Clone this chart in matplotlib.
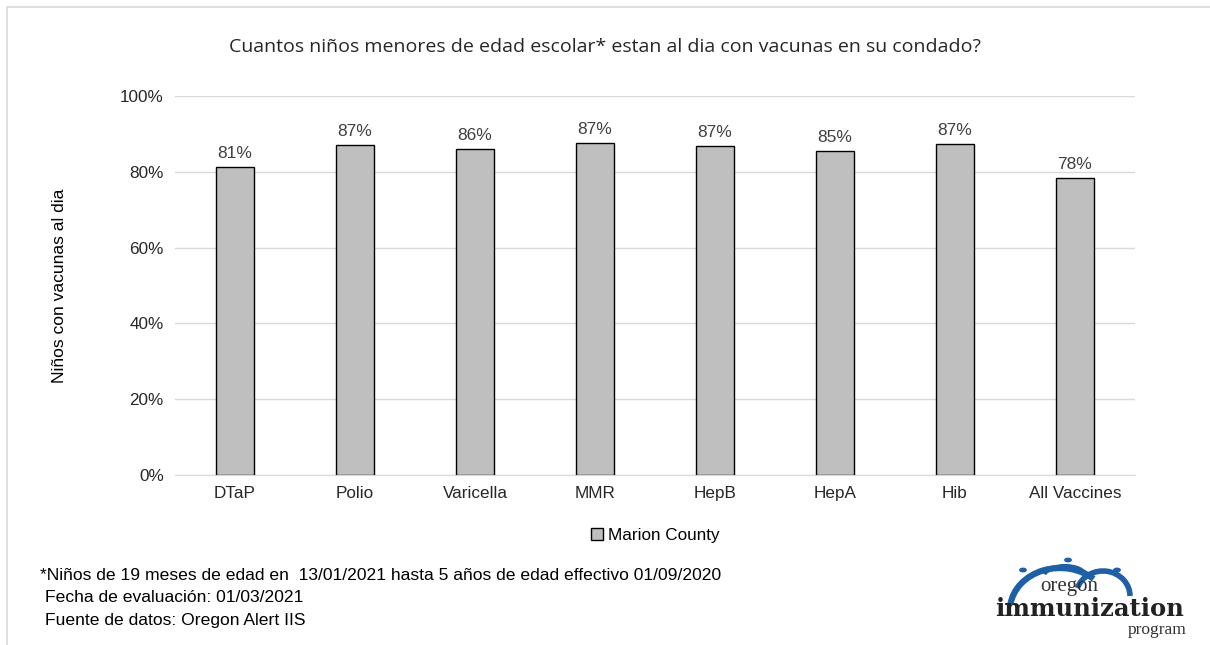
import matplotlib.pyplot as plt
from matplotlib.patches import Rectangle, Arc, Circle
import numpy as np

plt.rcParams['font.family'] = ['Liberation Sans', 'DejaVu Sans']

categories = ['DTaP', 'Polio', 'Varicella', 'MMR', 'HepB', 'HepA', 'Hib', 'All Vaccines']
values = [81.3, 87.1, 86.0, 87.6, 86.8, 85.5, 87.3, 78.4]
labels = ['81%', '87%', '86%', '87%', '87%', '85%', '87%', '78%']
yticks = [0, 20, 40, 60, 80, 100]

W, H = 1210, 645
fig = plt.figure(figsize=(12.1, 6.45), dpi=100)
ax = fig.add_axes([0.1446, 0.2636, 0.7934, 0.5876])

x = np.arange(len(categories))
ax.bar(x, values, width=0.32, color='#bfbfbf', edgecolor='black', linewidth=1.0,
       label='Marion County', zorder=3)
for xi, v, lab in zip(x, values, labels):
    ax.text(xi, v + 1.6, lab, ha='center', va='bottom', fontsize=12.5, color='#404040')

ax.set_xlim(-0.5, len(categories) - 0.5)
ax.set_ylim(0, 100)
ax.set_yticks(yticks)
ax.set_yticklabels([f'{t}%' for t in yticks], fontsize=12.3, color='#262626')
ax.set_xticks(x)
ax.set_xticklabels(categories, fontsize=12.3, color='#262626')
ax.tick_params(length=0, pad=8)
ax.grid(axis='y', color='#d9d9d9', linewidth=1, zorder=0)
for s in ['top', 'right', 'left']:
    ax.spines[s].set_visible(False)
ax.spines['bottom'].set_color('#d9d9d9')
ax.set_ylabel('Niños con vacunas al dia', fontsize=12.6, labelpad=38)

fig.text(0.5, 0.927, 'Cuantos niños menores de edad escolar* estan al dia con vacunas en su condado?',
         ha='center', va='center', fontsize=14, family=['Open Sans', 'DejaVu Sans'], color='#262626')

ax.legend(loc='upper center', bbox_to_anchor=(0.5, -0.1), frameon=False, fontsize=12.3,
          handlelength=0.7, handleheight=0.7, handletextpad=0.3)

fig.text(0.033, 0.108, '*Niños de 19 meses de edad en  13/01/2021 hasta 5 años de edad effectivo 01/09/2020',
         fontsize=12.6, va='center')
fig.text(0.037, 0.073, 'Fecha de evaluación: 01/03/2021', fontsize=12.6, va='center')
fig.text(0.037, 0.038, 'Fuente de datos: Oregon Alert IIS', fontsize=12.6, va='center')

# frame
fig.add_artist(Rectangle((7 / W, -0.02), 1.1, 1 - 7 / H + 0.02, transform=fig.transFigure,
                         fill=False, edgecolor='#d9d9d9', linewidth=1.2))

# logo
blue = '#1f5fa6'
fig.add_artist(Arc((1060 / W, 1 - 610 / H), 100 / W, 84 / H, theta1=60, theta2=168,
                   transform=fig.transFigure, color=blue, linewidth=4.5))
fig.add_artist(Arc((1065 / W, 1 - 578 / H), 44 / W, 24 / H, theta1=20, theta2=160,
                   transform=fig.transFigure, color=blue, linewidth=3))
fig.add_artist(Arc((1103 / W, 1 - 596 / H), 54 / W, 50 / H, theta1=0, theta2=150,
                   transform=fig.transFigure, color=blue, linewidth=4))
for cx, cy in [(1023, 570), (1068, 560), (1117, 570)]:
    fig.add_artist(Circle((cx / W, 1 - cy / H), 3.2 / W, transform=fig.transFigure,
                          color=blue))
fig.text(1069 / W, 1 - 587 / H, 'oregon', ha='center', va='center', fontsize=15,
         family=['Liberation Serif', 'DejaVu Serif'], color='#333333')
fig.text(1089 / W, 1 - 609 / H, 'immunization', ha='center', va='center', fontsize=17.5,
         family=['DejaVu Serif'], fontweight='bold', color='#222222')
fig.text(1187 / W, 1 - 630 / H, 'program', ha='right', va='center', fontsize=12.5,
         family=['Liberation Serif', 'DejaVu Serif'], color='#333333')

fig.savefig('out.png', dpi=100, facecolor='white')
